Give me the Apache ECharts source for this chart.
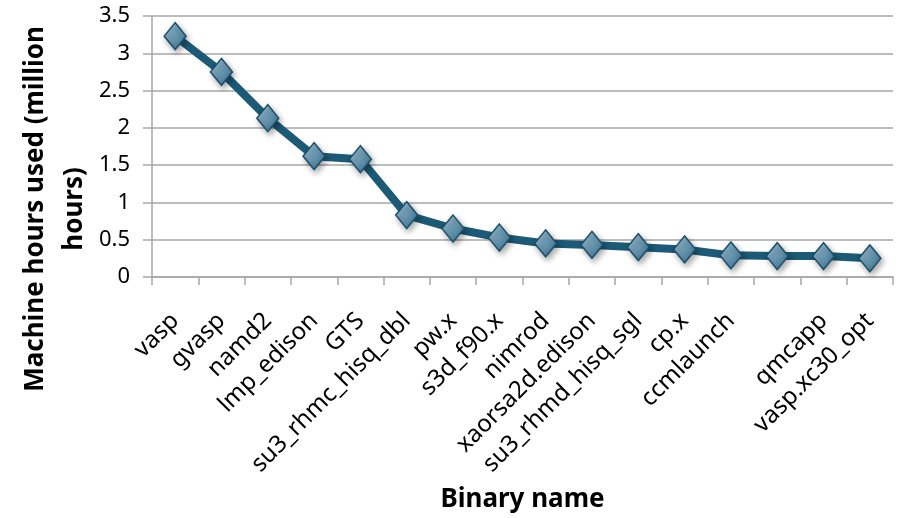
<!DOCTYPE html>
<html>
<head>
<meta charset="utf-8">
<script src="https://cdn.jsdelivr.net/npm/echarts@6/dist/echarts.min.js"></script>
<style>
html,body{margin:0;padding:0;background:#fff;}
#chart{width:899px;height:518px;}
</style>
</head>
<body>
<div id="chart"></div>
<script>
var categories = ['vasp','gvasp','namd2','lmp_edison','GTS','su3_rhmc_hisq_dbl','pw.x','s3d_f90.x','nimrod','xaorsa2d.edison','su3_rhmd_hisq_sgl','cp.x','ccmlaunch','','qmcapp','vasp.xc30_opt'];
var hours = [3.23, 2.75, 2.13, 1.62, 1.58, 0.83, 0.65, 0.53, 0.45, 0.43, 0.40, 0.37, 0.29, 0.28, 0.28, 0.25];
var yTicks = [0, 0.5, 1, 1.5, 2, 2.5, 3, 3.5];

var font = '"Noto Sans", "Open Sans", sans-serif';
var chart = echarts.init(document.getElementById('chart'));
chart.setOption({
  animation: false,
  grid: {left: 152, right: 6, top: 16, bottom: 241},
  xAxis: {
    type: 'category',
    data: categories,
    boundaryGap: true,
    axisLine: {lineStyle: {color: '#a6a6a6', width: 1.5}},
    axisTick: {show: true, alignWithLabel: false, length: 8, lineStyle: {color: '#a6a6a6', width: 1.5}},
    axisLabel: {interval: 0, rotate: 45, margin: 40, fontSize: 24, color: '#000', fontFamily: font},
    name: 'Binary name',
    nameLocation: 'middle',
    nameGap: 210,
    nameTextStyle: {fontSize: 26, fontWeight: 'bold', color: '#000', fontFamily: font}
  },
  yAxis: {
    type: 'value',
    min: yTicks[0],
    max: yTicks[yTicks.length - 1],
    interval: 0.5,
    axisLine: {show: true, lineStyle: {color: '#a6a6a6', width: 1.5}},
    axisTick: {show: true, inside: false, length: 9, lineStyle: {color: '#a6a6a6', width: 1.5}},
    splitLine: {lineStyle: {color: '#a6a6a6', width: 1.5}},
    axisLabel: {margin: 22, fontSize: 22, color: '#000', fontFamily: font}
  },
  graphic: [{
    type: 'text',
    left: 16,
    top: 26,
    rotation: Math.PI / 2,
    style: {
      text: 'Machine hours used (million\nhours)',
      fontSize: 26,
      fontWeight: 'bold',
      fontFamily: font,
      fill: '#000',
      textAlign: 'center',
      lineHeight: 39
    }
  }],
  series: [{
    type: 'line',
    data: hours,
    lineStyle: {color: '#1c5a77', width: 8},
    symbol: 'diamond',
    symbolSize: [22, 27],
    itemStyle: {
      color: new echarts.graphic.LinearGradient(0, 0, 1, 1, [
        {offset: 0, color: '#a8c8da'},
        {offset: 1, color: '#2e6a8a'}
      ]),
      borderColor: '#1a4f6a',
      borderWidth: 1.5,
      shadowColor: 'rgba(0,0,0,0.35)',
      shadowBlur: 6,
      shadowOffsetX: 2,
      shadowOffsetY: 3
    }
  }]
});
</script>
</body>
</html>
